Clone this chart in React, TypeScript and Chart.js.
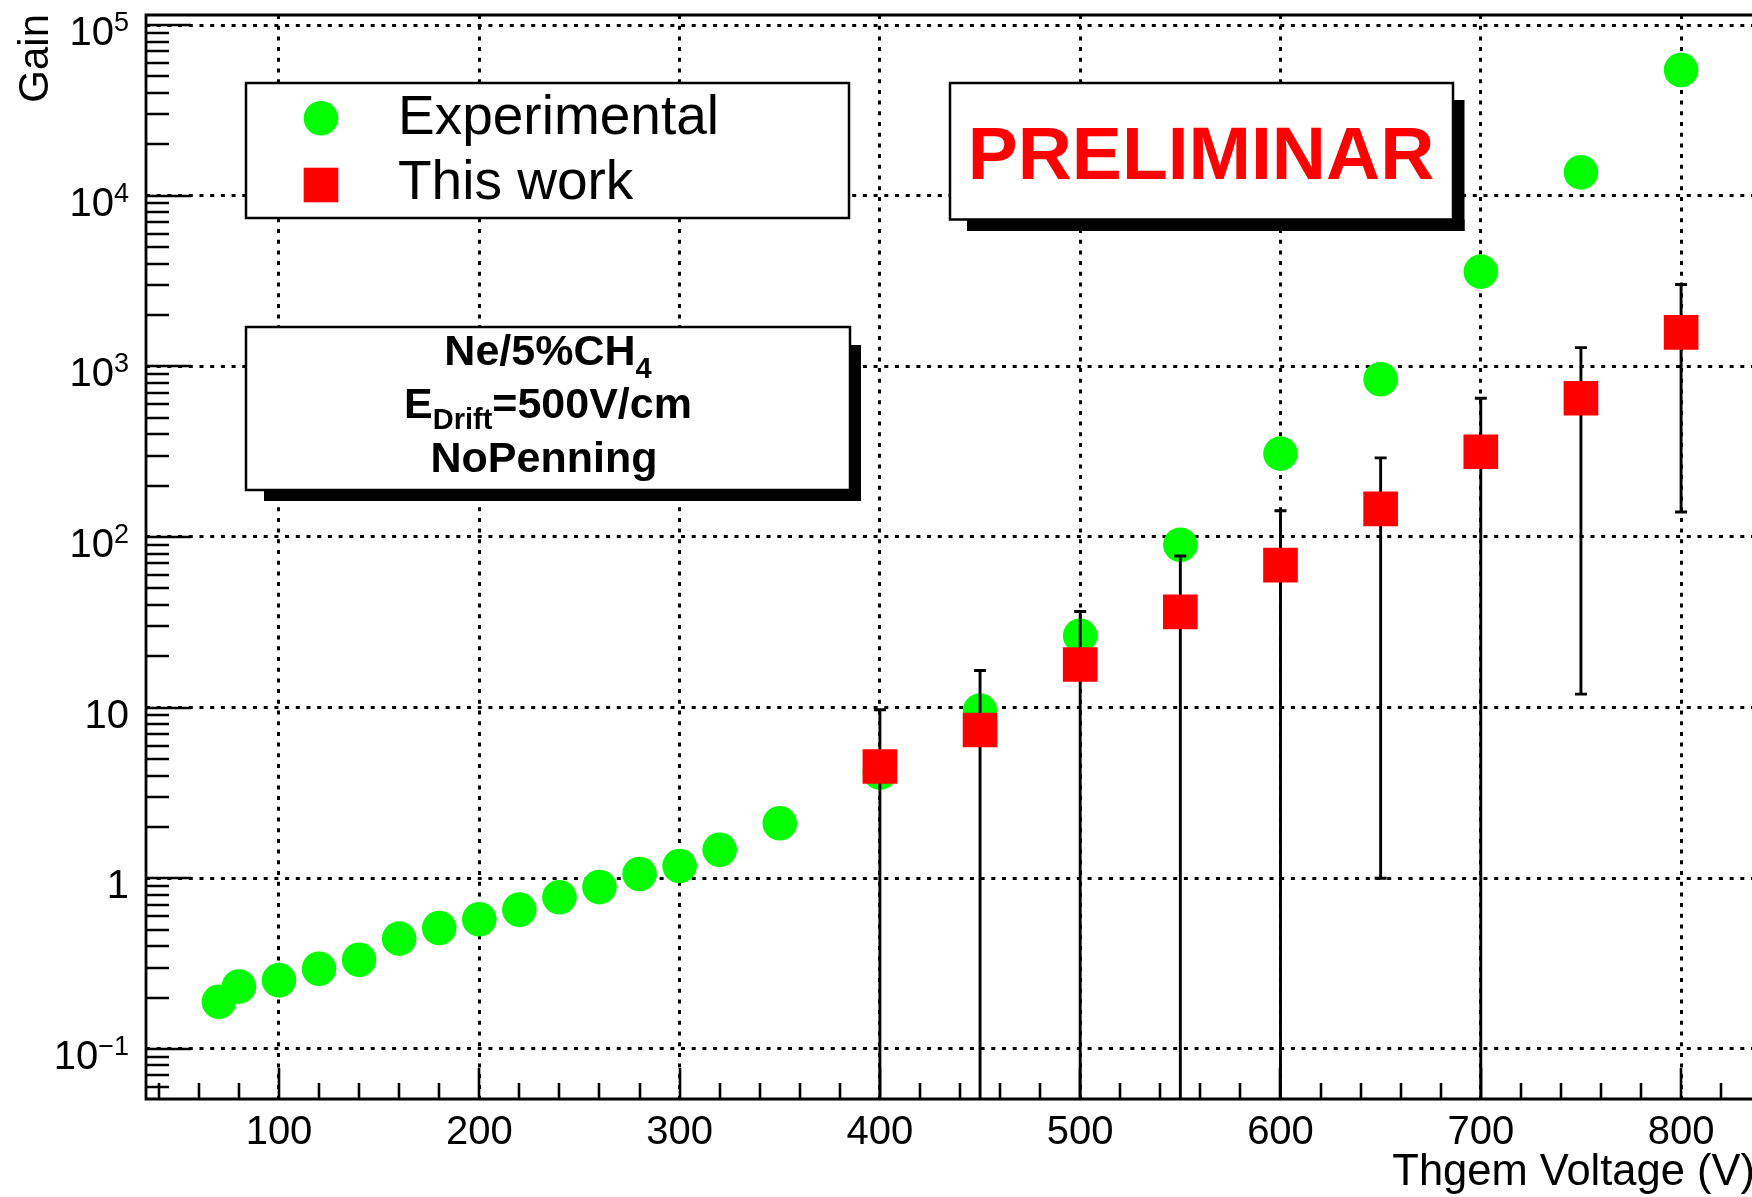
import React, { useEffect, useRef } from 'react';
import { Chart, registerables } from 'chart.js';

Chart.register(...registerables);

// ---------------- data ----------------
const expVoltage = [70, 80, 100, 120, 140, 160, 180, 200, 220, 240, 260, 280, 300, 320, 350, 400, 450, 500, 550, 600, 650, 700, 750, 800];
const expGain = [0.189, 0.232, 0.253, 0.295, 0.333, 0.443, 0.511, 0.575, 0.655, 0.775, 0.888, 1.06, 1.18, 1.47, 2.1, 4.17, 9.6, 26.4, 90, 308, 840, 3590, 13700, 54500];

const simVoltage = [400, 450, 500, 550, 600, 650, 700, 750, 800];
const simGain = [4.52, 7.4, 17.9, 36.4, 68.4, 146, 316, 650, 1580];
const simError = [5.2, 9.1, 18.7, 41, 74, 145, 334, 638, 1440];

const xTickValues = [100, 200, 300, 400, 500, 600, 700, 800];
const xTickLabels = ['100', '200', '300', '400', '500', '600', '700', '800'];
const xMinorStep = 20;
const X_MIN = 33.6;
const X_MAX = 835.4;

const yTickValues = [0.1, 1, 10, 100, 1000, 10000, 100000];
const yTickBase = ['10', '1', '10', '10', '10', '10', '10'];
const yTickExp = ['\u22121', '', '', '2', '3', '4', '5'];
const Y_MIN = 0.0509;
const Y_MAX = 114500;

const legendLabels = ['Experimental', 'This work'];
const xTitle = 'Thgem Voltage (V)';
const yTitle = 'Gain';
const stampText = 'PRELIMINAR';

const FONT = '"Liberation Sans", Arial, Helvetica, sans-serif';
const GREEN = '#00ff00';
const RED = '#ff0000';

function drawShadowBox(ctx: CanvasRenderingContext2D, x1: number, y1: number, x2: number, y2: number, shadow: number, start: number) {
  if (shadow > 0) {
    ctx.fillStyle = '#000';
    ctx.fillRect(x1 + start, y2, x2 + shadow - (x1 + start), shadow);
    ctx.fillRect(x2, y1 + start, shadow, y2 + shadow - (y1 + start));
  }
  ctx.fillStyle = '#fff';
  ctx.fillRect(x1, y1, x2 - x1, y2 - y1);
  ctx.strokeStyle = '#000';
  ctx.lineWidth = 2.5;
  ctx.setLineDash([]);
  ctx.strokeRect(x1, y1, x2 - x1, y2 - y1);
}

const errorBarPlugin = {
  id: 'errorBars',
  beforeDatasetDraw(chart: any, args: any) {
    if (args.index !== 0) return;
    const { ctx, chartArea: a, scales } = chart;
    const xs = scales.x;
    const ys = scales.y;
    ctx.save();
    ctx.beginPath();
    ctx.rect(a.left, a.top, a.right - a.left, a.bottom - a.top);
    ctx.clip();
    ctx.strokeStyle = '#000';
    ctx.lineWidth = 2.9;
    ctx.setLineDash([]);
    const cap = 6;
    for (let i = 0; i < simVoltage.length; i++) {
      const px = xs.getPixelForValue(simVoltage[i]);
      const hi = simGain[i] + simError[i];
      const lo = simGain[i] - simError[i];
      const pyHi = ys.getPixelForValue(hi);
      const loInside = lo > Y_MIN;
      const pyLo = loInside ? ys.getPixelForValue(lo) : a.bottom + 10;
      ctx.beginPath();
      ctx.moveTo(px, pyHi);
      ctx.lineTo(px, pyLo);
      ctx.moveTo(px - cap, pyHi);
      ctx.lineTo(px + cap, pyHi);
      if (loInside) {
        ctx.moveTo(px - cap, pyLo);
        ctx.lineTo(px + cap, pyLo);
      }
      ctx.stroke();
    }
    ctx.restore();
  },
};

const decorPlugin = {
  id: 'rootDecor',
  afterDraw(chart: any) {
    const { ctx, chartArea: a, scales } = chart;
    const xs = scales.x;
    const ys = scales.y;
    ctx.save();
    ctx.setLineDash([]);
    ctx.strokeStyle = '#000';
    ctx.lineWidth = 2.8;

    // frame
    ctx.beginPath();
    ctx.moveTo(a.right + 2, a.top);
    ctx.lineTo(a.left, a.top);
    ctx.lineTo(a.left, a.bottom);
    ctx.lineTo(a.right + 2, a.bottom);
    ctx.stroke();

    // y ticks (log)
    ctx.lineWidth = 2.6;
    ctx.beginPath();
    const dMin = Math.floor(Math.log10(Y_MIN));
    const dMax = Math.ceil(Math.log10(Y_MAX));
    for (let d = dMin; d <= dMax; d++) {
      for (let m = 1; m <= 9; m++) {
        const v = m * Math.pow(10, d);
        if (v < Y_MIN || v > Y_MAX) continue;
        const py = Math.round(ys.getPixelForValue(v));
        const len = m === 1 ? 45 : 23;
        ctx.moveTo(a.left, py);
        ctx.lineTo(a.left + len, py);
      }
    }
    // x ticks
    for (let v = Math.ceil(X_MIN / xMinorStep) * xMinorStep; v <= X_MAX; v += xMinorStep) {
      const px = Math.round(xs.getPixelForValue(v));
      const len = v % 100 === 0 ? 31 : 16;
      ctx.moveTo(px, a.bottom);
      ctx.lineTo(px, a.bottom - len);
    }
    ctx.stroke();

    // y tick labels
    ctx.fillStyle = '#000';
    ctx.textBaseline = 'alphabetic';
    ctx.textAlign = 'left';
    const mainFont = `40px ${FONT}`;
    const supFont = `27px ${FONT}`;
    for (let i = 0; i < yTickValues.length; i++) {
      const py = ys.getPixelForValue(yTickValues[i]);
      ctx.font = mainFont;
      const wb = ctx.measureText(yTickBase[i]).width;
      ctx.font = supFont;
      const we = yTickExp[i] ? ctx.measureText(yTickExp[i]).width : 0;
      const right = 129;
      const x0 = right - wb - we;
      const base = py + 20;
      ctx.font = mainFont;
      ctx.fillText(yTickBase[i], x0, base);
      if (yTickExp[i]) {
        ctx.font = supFont;
        ctx.fillText(yTickExp[i], x0 + wb, base - 14);
      }
    }

    // x tick labels
    ctx.font = mainFont;
    ctx.textAlign = 'center';
    for (let i = 0; i < xTickValues.length; i++) {
      const px = xs.getPixelForValue(xTickValues[i]);
      ctx.fillText(xTickLabels[i], px, 1144);
    }

    // axis titles
    ctx.font = `43.5px ${FONT}`;
    ctx.textAlign = 'right';
    ctx.fillText(xTitle, 1755, 1185);
    ctx.font = `42px ${FONT}`;
    ctx.save();
    ctx.translate(48, 14);
    ctx.rotate(-Math.PI / 2);
    ctx.textAlign = 'right';
    ctx.fillText(yTitle, 0, 0);
    ctx.restore();

    // legend box
    drawShadowBox(ctx, 246, 83, 849, 218, 0, 0);
    ctx.fillStyle = GREEN;
    ctx.beginPath();
    ctx.arc(321, 118.3, 17.3, 0, Math.PI * 2);
    ctx.fill();
    ctx.fillStyle = RED;
    ctx.fillRect(321 - 17.3, 185 - 17.3, 34.6, 34.6);
    ctx.fillStyle = '#000';
    ctx.font = `55px ${FONT}`;
    ctx.textAlign = 'left';
    ctx.fillText(legendLabels[0], 398, 133.5);
    ctx.fillText(legendLabels[1], 398, 198.5);

    // PRELIMINAR stamp
    drawShadowBox(ctx, 950, 83, 1453, 219.5, 11.5, 17);
    ctx.fillStyle = RED;
    ctx.font = `bold 75px ${FONT}`;
    ctx.textAlign = 'center';
    ctx.fillText(stampText, 1201, 179);

    // info box
    drawShadowBox(ctx, 246, 327, 850, 490, 11, 18);
    ctx.fillStyle = '#000';
    const bold = `bold 43px ${FONT}`;
    const boldSub = `bold 29px ${FONT}`;
    const cx = 548;
    // line 1: Ne/5%CH_4
    {
      ctx.textAlign = 'left';
      ctx.font = bold;
      const t1 = 'Ne/5%CH';
      const w1 = ctx.measureText(t1).width;
      ctx.font = boldSub;
      const w2 = ctx.measureText('4').width;
      const x0 = cx - (w1 + w2) / 2;
      ctx.font = bold;
      ctx.fillText(t1, x0, 364.5);
      ctx.font = boldSub;
      ctx.fillText('4', x0 + w1, 377.5);
    }
    // line 2: E_Drift=500V/cm
    {
      ctx.font = bold;
      const wE = ctx.measureText('E').width;
      const wR = ctx.measureText('=500V/cm').width;
      ctx.font = boldSub;
      const wD = ctx.measureText('Drift').width;
      const x0 = cx - (wE + wD + wR) / 2;
      ctx.font = bold;
      ctx.fillText('E', x0, 417.5);
      ctx.fillText('=500V/cm', x0 + wE + wD, 417.5);
      ctx.font = boldSub;
      ctx.fillText('Drift', x0 + wE, 428.5);
    }
    // line 3
    ctx.font = bold;
    ctx.textAlign = 'center';
    ctx.fillText('NoPenning', cx - 4, 471.5);

    ctx.restore();
  },
};

export default function App() {
  const canvasRef = useRef<HTMLCanvasElement | null>(null);

  useEffect(() => {
    const canvas = canvasRef.current;
    if (!canvas) return;
    const gridCommon = { color: '#000', lineWidth: 3, drawTicks: false, tickLength: 0 };
    const borderCommon = { display: false, dash: [4, 6.7] };
    const chart = new Chart(canvas, {
      type: 'scatter',
      data: {
        datasets: [
          {
            label: legendLabels[1],
            data: simVoltage.map((v, i) => ({ x: v, y: simGain[i] })),
            pointStyle: 'rect',
            pointRadius: 24.5,
            backgroundColor: RED,
            borderWidth: 0,
            pointBorderWidth: 0,
            showLine: false,
          },
          {
            label: legendLabels[0],
            data: expVoltage.map((v, i) => ({ x: v, y: expGain[i] })),
            pointStyle: 'circle',
            pointRadius: 17.3,
            backgroundColor: GREEN,
            borderWidth: 0,
            pointBorderWidth: 0,
            showLine: false,
          },
        ],
      },
      options: {
        animation: false,
        responsive: false,
        maintainAspectRatio: false,
        devicePixelRatio: 1,
        events: [],
        layout: { autoPadding: false, padding: { left: 146, top: 15, right: 0, bottom: 98 } },
        plugins: { legend: { display: false }, tooltip: { enabled: false } },
        scales: {
          x: {
            type: 'linear',
            min: X_MIN,
            max: X_MAX,
            afterBuildTicks: (s: any) => {
              s.ticks = xTickValues.map((v) => ({ value: v }));
            },
            ticks: { display: false },
            grid: gridCommon,
            border: borderCommon,
          },
          y: {
            type: 'logarithmic',
            min: Y_MIN,
            max: Y_MAX,
            afterBuildTicks: (s: any) => {
              s.ticks = yTickValues.map((v) => ({ value: v, major: true }));
            },
            ticks: { display: false },
            grid: gridCommon,
            border: borderCommon,
          },
        },
      } as any,
      plugins: [errorBarPlugin, decorPlugin],
    });
    return () => chart.destroy();
  }, []);

  return (
    <div style={{ position: 'fixed', left: 0, top: 0, width: 1752, height: 1197, background: '#fff' }}>
      <canvas ref={canvasRef} width={1752} height={1197} style={{ display: 'block', width: 1752, height: 1197 }} />
    </div>
  );
}
